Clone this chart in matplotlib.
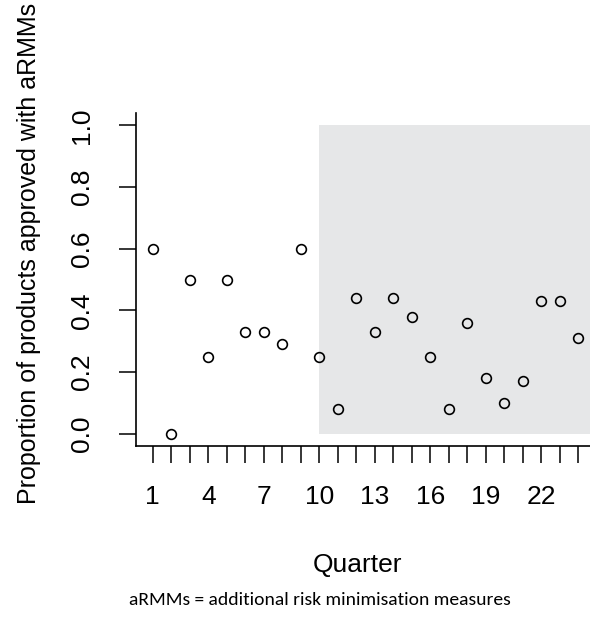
import matplotlib
matplotlib.use("Agg")
import matplotlib.pyplot as plt
import numpy as np

# proportion of newly approved products with aRMMs, per quarter
quarters = np.arange(1, 25)
proportion = [0.60, 0.00, 0.50, 0.25, 0.50, 0.33, 0.33, 0.29, 0.60, 0.25,
              0.08, 0.44, 0.33, 0.44, 0.38, 0.25, 0.08, 0.36, 0.18, 0.10,
              0.17, 0.43, 0.43, 0.31]
shade_start = 10
xtick_labels = [1, 4, 7, 10, 13, 16, 19, 22]
yticks = [0.0, 0.2, 0.4, 0.6, 0.8, 1.0]

plt.rcParams['font.family'] = ['Liberation Sans', 'DejaVu Sans']

fig = plt.figure(figsize=(5.9, 6.25), dpi=100)
W, H = 590, 625
x0, x1 = 135.7, 595.2
y0, y1 = 446, 113
ax = fig.add_axes([x0 / W, 1 - y0 / H, (x1 - x0) / W, (y0 - y1) / H])

ax.fill_between([shade_start, 26], 0, 1, color='#e6e7e8', lw=0, zorder=0)
ax.plot(quarters, proportion, linestyle='', marker='o', markersize=7,
        markerfacecolor='none', markeredgecolor='black', markeredgewidth=1.2, zorder=3)

ax.set_xlim(0.08, 24.92)
ax.set_ylim(-0.04, 1.04)
ax.spines['top'].set_visible(False)
ax.spines['right'].set_visible(False)
for s in ['left', 'bottom']:
    ax.spines[s].set_linewidth(1.2)

ax.set_xticks(quarters)
ax.set_xticklabels([str(q) if q in xtick_labels else '' for q in quarters])
ax.set_yticks(yticks)
ax.set_yticklabels(['%.1f' % v for v in yticks], rotation=90, va='center')
ax.tick_params(axis='both', length=12, width=1.1, labelsize=19)
ax.tick_params(axis='x', pad=16)
ax.tick_params(axis='y', pad=18)

ax.set_xlabel('Quarter', fontsize=19)
ax.xaxis.set_label_coords((357 - x0) / (x1 - x0), -(565 - y0) / (y0 - y1))
ax.xaxis.label.set_va('center')
ax.set_ylabel('Proportion of products approved with aRMMs', fontsize=18)
ax.yaxis.set_label_coords(-(x0 - 29) / (x1 - x0), (y0 - 253) / (y0 - y1))
ax.yaxis.label.set_va('center')

fig.text(320 / W, 1 - 600 / H, 'aRMMs = additional risk minimisation measures',
         ha='center', va='center', fontsize=14, family=['Carlito', 'Lato', 'DejaVu Sans'])

fig.savefig('out.png', dpi=100)
